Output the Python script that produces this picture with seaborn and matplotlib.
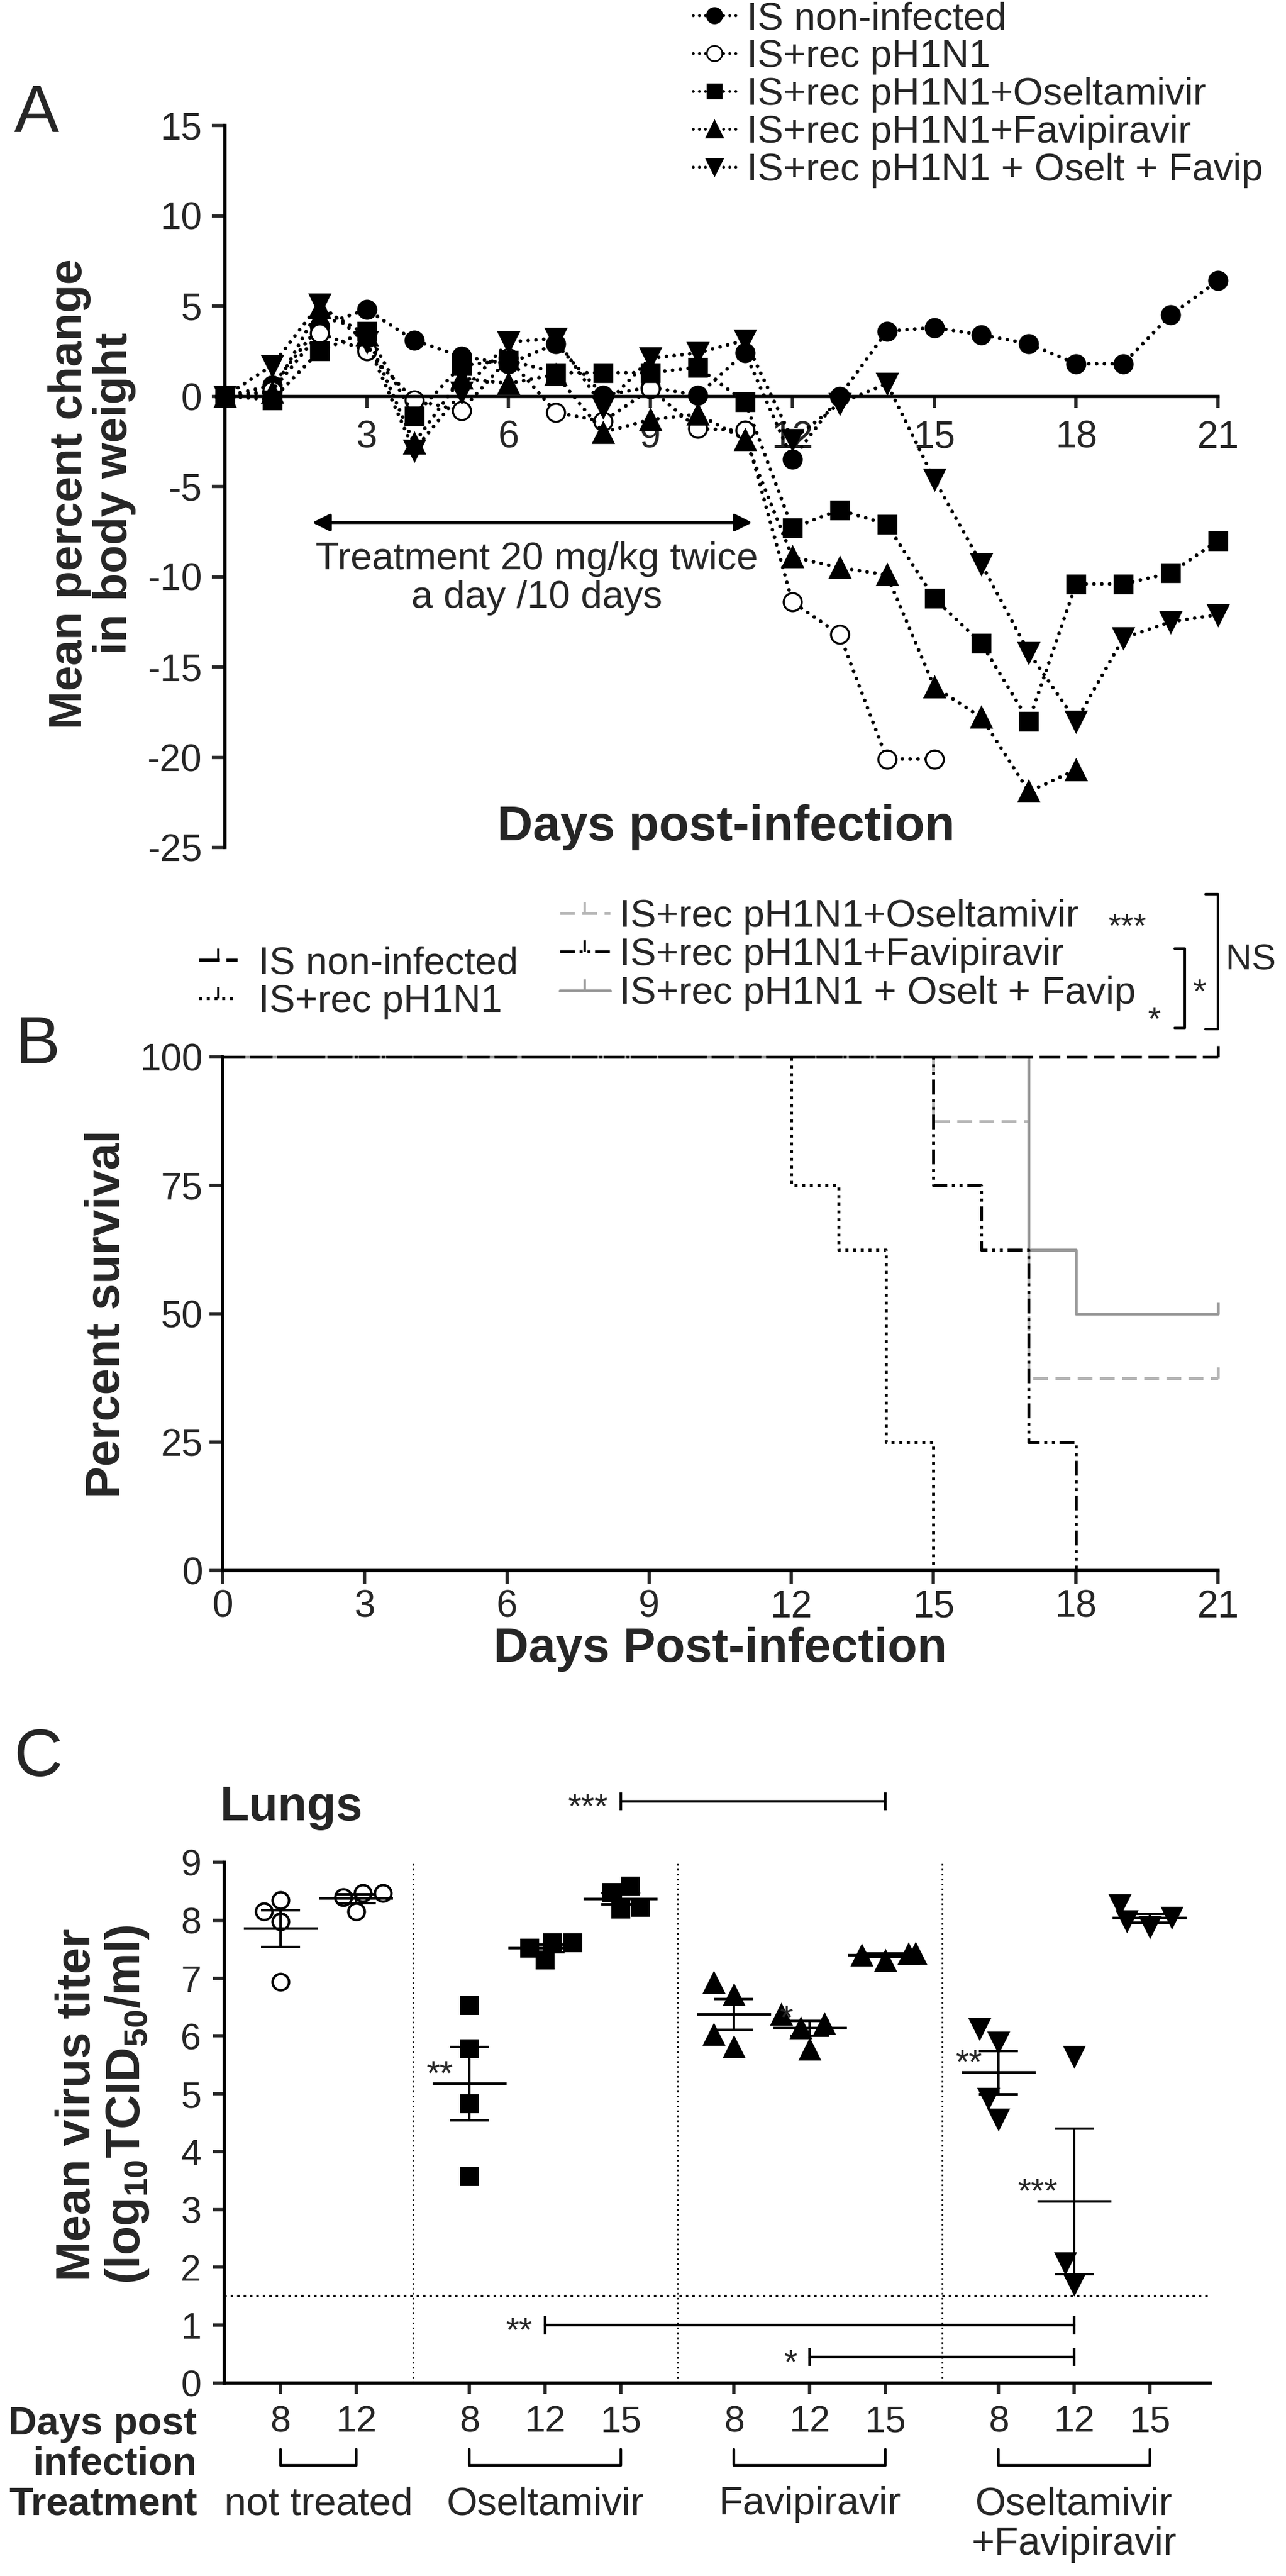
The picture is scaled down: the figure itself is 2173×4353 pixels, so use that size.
import numpy as np
import pandas as pd
import matplotlib
matplotlib.use('Agg')
import matplotlib.pyplot as plt
import seaborn as sns
from matplotlib.lines import Line2D

# ---------------- data ----------------
# A: mean percent change in body weight, day 0..21
days_a = list(range(22))
bw_noninf = [0, 0.6, 3.9, 4.8, 3.1, 2.2, 1.8, 2.9, 0.05, 0.5, 0.05, 2.4,
             -3.5, 0, 3.6, 3.8, 3.4, 2.9, 1.8, 1.8, 4.5, 6.4]
bw_rec = [0, 0.3, 3.5, 2.5, -0.2, -0.8, 2.1, -0.9, -1.4, 0.4, -1.8, -1.9,
          -11.4, -13.2, -20.1, -20.1]
bw_osel = [0, -0.2, 2.5, 3.6, -1.1, 1.7, 2.0, 1.3, 1.3, 1.3, 1.6, -0.3,
           -7.3, -6.3, -7.1, -11.2, -13.7, -18.0, -10.4, -10.4, -9.8, -8.0]
bw_favi = [0, 0.2, 4.9, 3.4, -2.6, 1.0, 0.7, 1.2, -2.0, -1.3, -1.0, -2.4,
           -8.9, -9.5, -9.9, -16.1, -17.8, -21.9, -20.7]
bw_combo = [0, 1.7, 5.1, 3.0, -3.0, 0.2, 3.0, 3.2, -0.6, 2.1, 2.4, 3.1,
            -2.4, -0.4, 0.7, -4.6, -9.3, -14.2, -18.0, -13.4, -12.5, -12.1]
labels_a = ['IS non-infected', 'IS+rec pH1N1', 'IS+rec pH1N1+Oseltamivir',
            'IS+rec pH1N1+Favipiravir', 'IS+rec pH1N1 + Oselt + Favip']

# B: Kaplan-Meier survival (step changes)
surv_noninf_d, surv_noninf = [0, 21], [100, 100]
surv_rec_d, surv_rec = [0, 12, 13, 14, 15], [100, 75, 62.5, 25, 0]
surv_osel_d, surv_osel = [0, 15, 17, 21], [100, 87.5, 37.5, 37.5]
surv_favi_d, surv_favi = [0, 15, 16, 17, 18], [100, 75, 62.5, 25, 0]
surv_combo_d, surv_combo = [0, 17, 18, 21], [100, 62.5, 50, 50]
censor_d = [21, 21, 21]
censor_s = [100, 37.5, 50]

# C: lung virus titers (log10 TCID50/ml)
c_groups = ['not treated', 'Oseltamivir', 'Favipiravir', 'Oseltamivir\n+Favipiravir']
c_days = [[8, 12], [8, 12, 15], [8, 12, 15], [8, 12, 15]]
titer_untreated = [[8.15, 7.98, 6.93, 8.35], [8.47, 8.15, 8.40, 8.47]]
titer_osel = [[6.52, 5.78, 4.83, 3.57], [7.61, 7.31, 7.52, 7.61], [8.48, 8.59, 8.19, 8.22]]
titer_favi = [[6.93, 6.72, 6.03, 5.82], [6.38, 5.78, 6.15, 6.22], [7.42, 7.31, 7.40, 7.44]]
titer_combo = [[6.12, 5.88, 4.91, 4.55], [5.64, 2.07, 1.70], [8.04, 7.87, 7.98, 8.25]]
detection_limit = 1.5
stars_near = [(1, 8, '**'), (2, 12, '*'), (3, 8, '**'), (3, 12, '***')]
comparisons = [((1, 15), (2, 15), '***', 10.05),
               ((1, 12), (3, 12), '**', 1.0),
               ((2, 12), (3, 12), '*', 0.45)]

# ---------------- style ----------------
sns.set_theme(style='ticks')
plt.rcParams['font.family'] = ['Liberation Sans', 'DejaVu Sans']
plt.rcParams['mathtext.fontset'] = 'custom'
plt.rcParams['mathtext.rm'] = 'Liberation Sans:bold'
plt.rcParams['mathtext.bf'] = 'Liberation Sans:bold'
plt.rcParams['axes.linewidth'] = 4
plt.rcParams['axes.edgecolor'] = 'black'
plt.rcParams['axes.unicode_minus'] = False

W, H = 2173, 4353
fig = plt.figure(figsize=(W / 100, H / 100), dpi=100)


def box(x0, y0, x1, y1):
    return [x0 / W, 1 - y1 / H, (x1 - x0) / W, (y1 - y0) / H]


def ftext(px, py, s, **kw):
    fig.text(px / W, 1 - py / H, s, **kw)


axA = fig.add_axes(box(380, 212, 2058, 1432))
axB = fig.add_axes(box(376, 1786, 2058, 2654))
axC = fig.add_axes(box(379, 3147, 2045, 4027))

# ---------------- panel A ----------------
dotted = (0, (0.01, 2.1))
marker_specs = [('o', 'black', 22), ('o', 'white', 22), ('s', 'black', 21),
                ('^', 'black', 24), ('v', 'black', 24)]
series_a = [bw_noninf, bw_rec, bw_osel, bw_favi, bw_combo]
handles_a = []
for vals, (mk, fc, ms), lab in zip(series_a, marker_specs, labels_a):
    sns.lineplot(x=days_a[:len(vals)], y=vals, ax=axA, color='black',
                 linestyle=dotted, dash_capstyle='round', linewidth=4.5,
                 marker=mk, markersize=ms, markerfacecolor=fc,
                 markeredgecolor='black', markeredgewidth=2.5,
                 clip_on=False, legend=False)
    handles_a.append(Line2D([], [], color='black', linestyle=dotted,
                            dash_capstyle='round', linewidth=3.5, marker=mk,
                            markersize=ms * 0.85, markerfacecolor=fc,
                            markeredgecolor='black', markeredgewidth=2))

axA.set_xlim(0, 21)
axA.set_ylim(-25, 15)
axA.spines['bottom'].set_position(('data', 0))
axA.spines[['top', 'right']].set_visible(False)
axA.set_xticks([3, 6, 9, 12, 15, 18, 21])
axA.set_yticks(range(-25, 16, 5))
axA.tick_params(axis='x', length=14, width=4, pad=15, labelsize=46)
axA.tick_params(axis='y', length=16, width=4, pad=12, labelsize=46)
axA.set_xlabel('')
axA.set_ylabel('')
axA.text(10.6, -23.9, 'Days post-infection', ha='center', va='center',
         fontsize=60, fontweight='bold')
axA.annotate('', xy=(11.15, -7), xytext=(1.85, -7),
             arrowprops=dict(arrowstyle='<|-|>', lw=3.5, color='black',
                             mutation_scale=45, shrinkA=0, shrinkB=0))
axA.text(6.6, -10.1, 'Treatment 20 mg/kg twice\na day /10 days', ha='center',
         va='center', fontsize=47, linespacing=1.1)
axA.text(-0.134, 0.49, 'Mean percent change\nin body weight', rotation=90,
         ha='center', va='center', fontsize=56, fontweight='bold',
         transform=axA.transAxes, linespacing=1.05)
fig.legend(handles_a, labels_a, loc='upper left', frameon=False,
           bbox_to_anchor=(1171 / W, 1 - 2 / H), bbox_transform=fig.transFigure,
           fontsize=47, handlelength=1.1, handletextpad=0.3, labelspacing=0.06,
           borderpad=0, borderaxespad=0)
ftext(62, 194, 'A', ha='center', va='center', fontsize=82)

# ---------------- panel B ----------------
ls_dash = (0, (7, 2.2))
ls_dot = (0, (1, 1.6))
ls_dash_grey = (0, (5, 2.5))
ls_dashdotdot = (0, (5, 1.6, 1, 1.6, 1, 1.6))
grey_light, grey_mid = '#b5b5b5', '#999999'
surv_series = [
    (surv_rec_d, surv_rec, 'black', ls_dot, 'IS+rec pH1N1'),
    (surv_osel_d, surv_osel, grey_light, ls_dash_grey, 'IS+rec pH1N1+Oseltamivir'),
    (surv_combo_d, surv_combo, grey_mid, '-', 'IS+rec pH1N1 + Oselt + Favip'),
    (surv_favi_d, surv_favi, 'black', ls_dashdotdot, 'IS+rec pH1N1+Favipiravir'),
    (surv_noninf_d, surv_noninf, 'black', ls_dash, 'IS non-infected'),
]
hB = {}
for d, s, col, ls, lab in surv_series:
    sns.lineplot(x=d, y=s, ax=axB, color=col, linestyle=ls, linewidth=3.6,
                 drawstyle='steps-post', clip_on=False, legend=False)
    hB[lab] = Line2D([], [], color=col, linestyle=ls, linewidth=3.6,
                     marker=2, markersize=14, markeredgewidth=3)
for d, s, col in zip(censor_d, censor_s, ['black', grey_light, grey_mid]):
    axB.plot([d], [s], marker=2, markersize=14, markeredgewidth=3.5,
             color=col, linestyle='none', clip_on=False)

axB.set_xlim(0, 21)
axB.set_ylim(0, 100)
axB.spines[['top', 'right']].set_visible(False)
axB.set_xticks(range(0, 22, 3))
axB.set_yticks([0, 25, 50, 75, 100])
axB.tick_params(axis='x', length=16, width=4, pad=7, labelsize=46)
axB.tick_params(axis='y', length=16, width=4, pad=8, labelsize=46)
axB.set_xlabel('Days Post-infection', fontsize=59, fontweight='bold', labelpad=2)
axB.set_ylabel('')
axB.text(-0.116, 0.5, 'Percent survival', rotation=90, ha='center',
         va='center', fontsize=58, fontweight='bold', transform=axB.transAxes)

leg_left = ['IS non-infected', 'IS+rec pH1N1']
leg_right = ['IS+rec pH1N1+Oseltamivir', 'IS+rec pH1N1+Favipiravir',
             'IS+rec pH1N1 + Oselt + Favip']
fig.legend([hB[k] for k in leg_left], leg_left, loc='upper left',
           frameon=False, bbox_to_anchor=(336 / W, 1 - 1598 / H),
           bbox_transform=fig.transFigure, fontsize=47,
           handlelength=1.0, handletextpad=0.55, labelspacing=0.08,
           borderpad=0, borderaxespad=0)
fig.legend([hB[k] for k in leg_right], leg_right, loc='upper left',
           frameon=False, bbox_to_anchor=(946 / W, 1 - 1519 / H),
           bbox_transform=fig.transFigure, fontsize=47, handlelength=1.3,
           handletextpad=0.25, labelspacing=0.08, borderpad=0, borderaxespad=0)


def bx(px):
    return (px - 376) / (2058 - 376)


def by(py):
    return (2654 - py) / (2654 - 1786)


kwB = dict(transform=axB.transAxes, ha='center', va='center')
axB.text(bx(1905), by(1568), '***', fontsize=40, **kwB)
axB.text(bx(1950), by(1725), '*', fontsize=40, **kwB)
axB.text(bx(2026), by(1680), '*', fontsize=42, **kwB)
axB.text(bx(2113), by(1623), 'NS', fontsize=44, **kwB)
axB.plot([bx(1985), bx(2002), bx(2002), bx(1985)],
         [by(1603), by(1603), by(1737), by(1737)], color='black', lw=3,
         transform=axB.transAxes, clip_on=False)
axB.plot([bx(2037), bx(2058), bx(2058), bx(2037)],
         [by(1511), by(1511), by(1739), by(1739)], color='black', lw=3,
         transform=axB.transAxes, clip_on=False)
ftext(64, 1768, 'B', ha='center', va='center', fontsize=82)

# ---------------- panel C ----------------
titers = [titer_untreated, titer_osel, titer_favi, titer_combo]
c_markers = [('o', 'white', 20), ('s', 'black', 23), ('^', 'black', 28),
             ('v', 'black', 28)]

# slot positions: one unit per sampling day, half-unit gap between groups
group_start, start = [], 1.0
for days in c_days:
    group_start.append(start)
    start += len(days) + 0.5


def slot(g, day):
    return group_start[g] + c_days[g].index(day)


rows = []
for g, (days, tvals) in enumerate(zip(c_days, titers)):
    for day, vals in zip(days, tvals):
        for v in vals:
            rows.append({'group': g, 'day': day, 'pos': slot(g, day), 'titer': v})
dfC = pd.DataFrame(rows)

for g, (mk, fc, sz) in enumerate(c_markers):
    sub = dfC[dfC['group'] == g]
    sns.swarmplot(data=sub, x='pos', y='titer', ax=axC, native_scale=True,
                  orient='x', marker=mk, size=sz, color=fc, edgecolor='black',
                  linewidth=3 if fc == 'white' else 0, zorder=3, warn_thresh=1)

stats = dfC.groupby('pos')['titer'].agg(['mean', 'sem']).reset_index()
axC.hlines(stats['mean'], stats['pos'] - 0.49, stats['pos'] + 0.49,
           color='black', lw=3.2, zorder=4)
axC.errorbar(stats['pos'], stats['mean'], yerr=stats['sem'], fmt='none',
             ecolor='black', elinewidth=3, capsize=24, capthick=3, zorder=4)

for g in range(1, len(c_groups)):
    axC.axvline(group_start[g] - 0.75, color='black', lw=2,
                linestyle=(0, (1, 2)), zorder=1)
axC.axhline(detection_limit, color='black', lw=3, linestyle=(0, (1, 1.6)),
            zorder=1)

means = stats.set_index('pos')['mean']
for g, day, s in stars_near:
    p = slot(g, day)
    axC.text(p - 0.22, means[p] + 0.14, s, ha='right', va='center', fontsize=42)
for (g1, d1), (g2, d2), s, yv in comparisons:
    p1, p2 = slot(g1, d1), slot(g2, d2)
    axC.plot([p1, p2], [yv, yv], color='black', lw=3.2, marker='|',
             markersize=22, markeredgewidth=3.2, clip_on=False)
    axC.text(p1 - 0.17, yv - 0.13, s, ha='right', va='center', fontsize=42)

axC.set_xlim(0.255, 13.3)
axC.set_ylim(0, 9)
axC.spines[['top', 'right']].set_visible(False)
all_pos = [slot(g, d) for g, days in enumerate(c_days) for d in days]
all_lab = [str(d) for days in c_days for d in days]
axC.set_xticks(all_pos, all_lab)
axC.set_yticks(range(10))
axC.tick_params(axis='x', length=13, width=4, pad=13, labelsize=45)
axC.tick_params(axis='y', length=14, width=4, pad=14, labelsize=45)
axC.set_xlabel('')
axC.set_ylabel('')

trans = axC.get_xaxis_transform()


def cy(py):
    return (4027 - py) / (4027 - 3147)


for g, (name, days) in enumerate(zip(c_groups, c_days)):
    p0, p1 = slot(g, days[0]), slot(g, days[-1])
    axC.plot([p0, p0, p1, p1], [cy(4139), cy(4166), cy(4166), cy(4139)],
             color='black', lw=3.2, transform=trans, clip_on=False)
    for k, line in enumerate(name.split('\n')):
        axC.text((p0 + p1) / 2, cy(4232 + 68 * k), line, transform=trans,
                 ha='center', va='center', fontsize=48)

ftext(333, 4097, 'Days post', ha='right', va='center', fontsize=48, fontweight='bold')
ftext(333, 4164, 'infection', ha='right', va='center', fontsize=48, fontweight='bold')
ftext(333, 4232, 'Treatment', ha='right', va='center', fontsize=48, fontweight='bold')
axC.text(-0.123, 0.535,
         'Mean virus titer\n(log$_{\\mathbf{10}}$TCID$_{\\mathbf{50}}$/ml)',
         rotation=90, ha='center', va='center', fontsize=58, fontweight='bold',
         transform=axC.transAxes, linespacing=1.1)
ftext(372, 3055, 'Lungs', ha='left', va='center', fontsize=58, fontweight='bold')
ftext(64, 2972, 'C', ha='center', va='center', fontsize=82)

fig.savefig('out.png', dpi=100)
